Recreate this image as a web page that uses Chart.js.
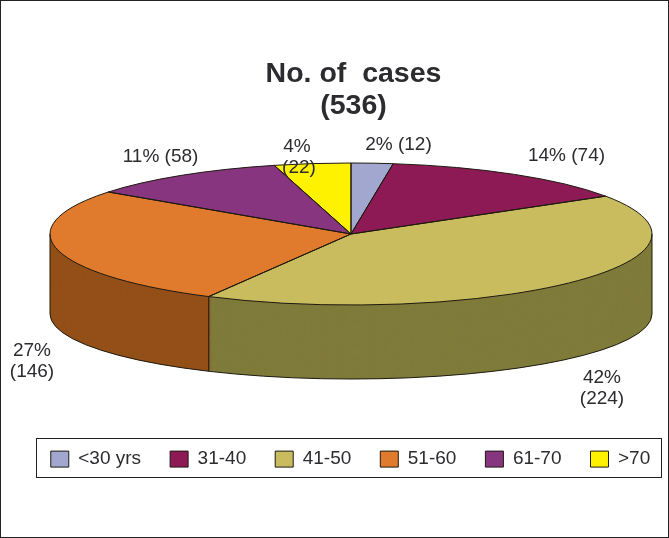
<!DOCTYPE html>
<html>
<head>
<meta charset="utf-8">
<script src="https://cdn.jsdelivr.net/npm/chart.js@4"></script>
<style>
html, body { margin: 0; padding: 0; background: #fff; }
canvas { display: block; }
</style>
</head>
<body>
<canvas id="agepie" width="669" height="538"></canvas>
<script>
var categories = ["<30 yrs", "31-40", "41-50", "51-60", "61-70", ">70"];
var cases = [12, 74, 224, 146, 58, 22];
var percents = ["2%", "14%", "42%", "27%", "11%", "4%"];
var topColors = ["#A2A7CF", "#8E1A55", "#C8BC5E", "#E07A2C", "#87357F", "#FFF200"];
var sideColors = ["#666A83", "#5A1036", "#7F7B3A", "#935018", "#552150", "#A19900"];
var titleLines = ["No. of  cases", "(536)"];

var inkColor = "#2B2B30";
var lineColor = "#1E1A10";
var fontName = "'Liberation Sans', Arial, sans-serif";

// where the flattened pie sits on the page
var pie = { cx: 351, cy: 234, rx: 301, ry: 71, drop: 80, bottomRy: 65 };

// label text anchors, one per slice: [x, y, two lines?]
var labelSpots = [
    [398.5, 145, false],
    [566.5, 156, false],
    [160.5, 157, false],
    [32, 351, true],
    [602, 378, true],
    [297, 147, true]
];

function sectorPath(ctx, cy, ry, arc){
    ctx.beginPath();
    ctx.moveTo(pie.cx, cy);
    ctx.ellipse(pie.cx, cy, pie.rx, ry, 0, arc.startAngle, arc.endAngle);
    ctx.closePath();
}

var pie3d = {
    id: "pie3d",
    afterLayout: function(chart){
        // legend sits inside the drawn box, not at the canvas bottom
        chart.legend.left += 16;
        chart.legend.right += 16;
        chart.legend.top = 420.6;
        // title is centred over the pie, not the page
        chart.titleBlock.left += 19;
        chart.titleBlock.right += 19;
    },
    beforeDraw: function(chart){
        var ctx = chart.ctx;
        ctx.save();
        ctx.fillStyle = "#fff";
        ctx.fillRect(0, 0, 669, 538);
        ctx.strokeStyle = "#222";
        ctx.lineWidth = 1;
        ctx.strokeRect(0.5, 0.5, 668, 537);
        ctx.strokeRect(36.5, 438.5, 625, 39);
        ctx.restore();
    },
    beforeDatasetsDraw: function(chart){
        var ctx = chart.ctx;
        var arcs = chart.getDatasetMeta(0).data;
        // wall of the pie, stacked from the bottom edge up
        for(var d = pie.drop; d >= 1; d--){
            var ry = pie.ry + (pie.bottomRy - pie.ry) * d / pie.drop;
            for(var i = 0; i < arcs.length; i++){
                sectorPath(ctx, pie.cy + d, ry, arcs[i]);
                ctx.fillStyle = sideColors[i];
                ctx.fill();
            }
        }
        // the library then draws the top face through this squash
        var first = arcs[0];
        ctx.save();
        ctx.translate(pie.cx, pie.cy);
        ctx.scale(pie.rx / first.outerRadius, pie.ry / first.outerRadius);
        ctx.translate(-first.x, -first.y);
    },
    afterDatasetsDraw: function(chart){
        var ctx = chart.ctx;
        var arcs = chart.getDatasetMeta(0).data;
        ctx.restore();

        ctx.save();
        ctx.strokeStyle = lineColor;
        ctx.lineWidth = 1;
        var bottomY = pie.cy + pie.drop;
        ctx.beginPath();
        ctx.moveTo(pie.cx + pie.rx, pie.cy);
        ctx.lineTo(pie.cx + pie.rx, bottomY);
        ctx.ellipse(pie.cx, bottomY, pie.rx, pie.bottomRy, 0, 0, Math.PI);
        ctx.lineTo(pie.cx - pie.rx, pie.cy);
        ctx.stroke();
        for(var i = 0; i < arcs.length; i++){
            sectorPath(ctx, pie.cy, pie.ry, arcs[i]);
            ctx.stroke();
            // slice edges facing the viewer carry on down the wall
            var a = arcs[i].endAngle;
            if(Math.sin(a) > 0.01){
                ctx.beginPath();
                ctx.moveTo(pie.cx + pie.rx * Math.cos(a), pie.cy + pie.ry * Math.sin(a));
                ctx.lineTo(pie.cx + pie.rx * Math.cos(a), bottomY + pie.bottomRy * Math.sin(a));
                ctx.stroke();
            }
        }

        ctx.fillStyle = inkColor;
        ctx.font = "19px " + fontName;
        ctx.textAlign = "center";
        ctx.textBaseline = "middle";
        var labelOrder = [0, 1, 4, 3, 2, 5];
        for(var j = 0; j < labelSpots.length; j++){
            var k = labelOrder[j];
            var spot = labelSpots[j];
            if(spot[2]){
                ctx.fillText(percents[k], spot[0], spot[1]);
                ctx.fillText("(" + cases[k] + ")", spot[0] + (k == 5 ? 2 : 0), spot[1] + 21);
            }
            else{
                ctx.fillText(percents[k] + " (" + cases[k] + ")", spot[0], spot[1]);
            }
        }
        ctx.restore();
    }
};

var ctx = document.getElementById("agepie").getContext("2d");
var agePie = new Chart(ctx, {
    type: "pie",
    data: {
        labels: categories,
        datasets: [{
            data: cases,
            backgroundColor: topColors,
            borderWidth: 0,
            clip: false
        }]
    },
    options: {
        responsive: false,
        animation: false,
        layout: { padding: { left: 0, top: 0, right: 0, bottom: 40 } },
        plugins: {
            title: {
                display: true,
                text: titleLines,
                color: inkColor,
                font: { family: fontName, size: 28.5, weight: "bold", lineHeight: 1.12 },
                padding: { top: 58, bottom: 10 }
            },
            legend: {
                position: "bottom",
                labels: {
                    color: inkColor,
                    font: { family: fontName, size: 19 },
                    boxWidth: 18,
                    boxHeight: 16,
                    padding: 29,
                    generateLabels: function(chart){
                        return categories.map(function(name, i){
                            return {
                                text: name,
                                fillStyle: topColors[i],
                                strokeStyle: lineColor,
                                lineWidth: 1,
                                fontColor: inkColor,
                                index: i
                            };
                        });
                    }
                }
            },
            tooltip: { enabled: false }
        }
    },
    plugins: [pie3d]
});
</script>
</body>
</html>
